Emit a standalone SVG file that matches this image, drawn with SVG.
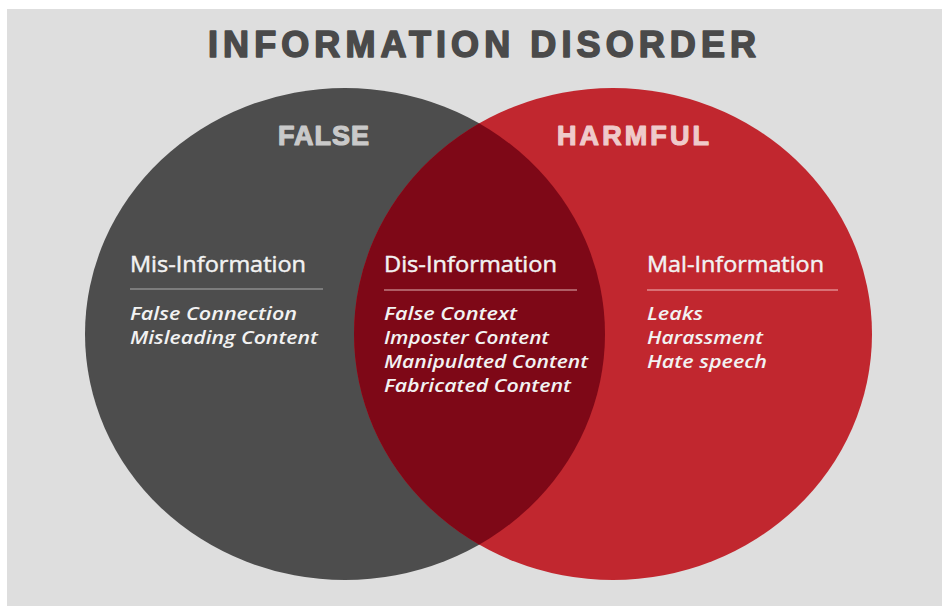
<svg xmlns="http://www.w3.org/2000/svg" width="942" height="606" viewBox="0 0 942 606">
<style>
.title{font-family:"Liberation Sans",Arial,sans-serif;font-weight:bold;font-size:36px;fill:#4a4a4a;stroke:#4a4a4a;stroke-width:1.6px;stroke-linejoin:round}
.cat{font-family:"Liberation Sans",Arial,sans-serif;font-weight:bold;font-size:27px;stroke-width:1.2px;stroke-linejoin:round}
.head{font-family:"Open Sans","Liberation Sans",sans-serif;font-size:21px;fill:#f2f2f2;stroke:#f2f2f2;stroke-width:0.45px}
.item{font-family:"Open Sans","Liberation Sans",sans-serif;font-size:17.5px;font-style:italic;font-weight:600;fill:#f2f2f2}
</style>
<rect x="0" y="0" width="942" height="606" fill="#ffffff"/>
<rect x="7" y="9" width="935" height="597" fill="#dedede"/>
<text class="title" x="208" y="57" textLength="548" lengthAdjust="spacing">INFORMATION DISORDER</text>
<defs>
<clipPath id="clipL"><ellipse cx="345" cy="334" rx="260" ry="246"/></clipPath>
</defs>
<g id="false-set">
<ellipse cx="345" cy="334" rx="260" ry="246" fill="#4d4d4d"/>
</g>
<g id="harmful-set">
<ellipse cx="613" cy="334" rx="259" ry="246" fill="#c1272f"/>
</g>
<g id="overlap">
<ellipse cx="613" cy="334" rx="259" ry="246" fill="#7e0817" clip-path="url(#clipL)"/>
</g>
<g id="false-label"><text class="cat" x="278" y="145" fill="#c9c9c9" stroke="#c9c9c9" textLength="91" lengthAdjust="spacing">FALSE</text></g>
<g id="harmful-label"><text class="cat" x="557" y="145" fill="#efcaca" stroke="#efcaca" textLength="152" lengthAdjust="spacing">HARMFUL</text></g>
<g id="mis-information">
<text class="head" x="130" y="272" textLength="176" lengthAdjust="spacingAndGlyphs">Mis-Information</text>
<line x1="130" y1="289" x2="323" y2="289" stroke="#8c8c8c" stroke-width="1.5"/>
<text class="item" x="130" y="320" textLength="167" lengthAdjust="spacingAndGlyphs">False Connection</text>
<text class="item" x="130" y="344" textLength="188" lengthAdjust="spacingAndGlyphs">Misleading Content</text>
</g>
<g id="dis-information">
<text class="head" x="384" y="272" textLength="173" lengthAdjust="spacingAndGlyphs">Dis-Information</text>
<line x1="384" y1="290" x2="577" y2="290" stroke="#c07a80" stroke-width="1.5"/>
<text class="item" x="384" y="320" textLength="133" lengthAdjust="spacingAndGlyphs">False Context</text>
<text class="item" x="384" y="344" textLength="165" lengthAdjust="spacingAndGlyphs">Imposter Content</text>
<text class="item" x="384" y="368" textLength="204" lengthAdjust="spacingAndGlyphs">Manipulated Content</text>
<text class="item" x="384" y="392" textLength="187" lengthAdjust="spacingAndGlyphs">Fabricated Content</text>
</g>
<g id="mal-information">
<text class="head" x="647" y="272" textLength="177" lengthAdjust="spacingAndGlyphs">Mal-Information</text>
<line x1="647" y1="290" x2="838" y2="290" stroke="#e08a8e" stroke-width="1.5"/>
<text class="item" x="647" y="320" textLength="56" lengthAdjust="spacingAndGlyphs">Leaks</text>
<text class="item" x="647" y="344" textLength="116" lengthAdjust="spacingAndGlyphs">Harassment</text>
<text class="item" x="647" y="368" textLength="120" lengthAdjust="spacingAndGlyphs">Hate speech</text>
</g>
</svg>
